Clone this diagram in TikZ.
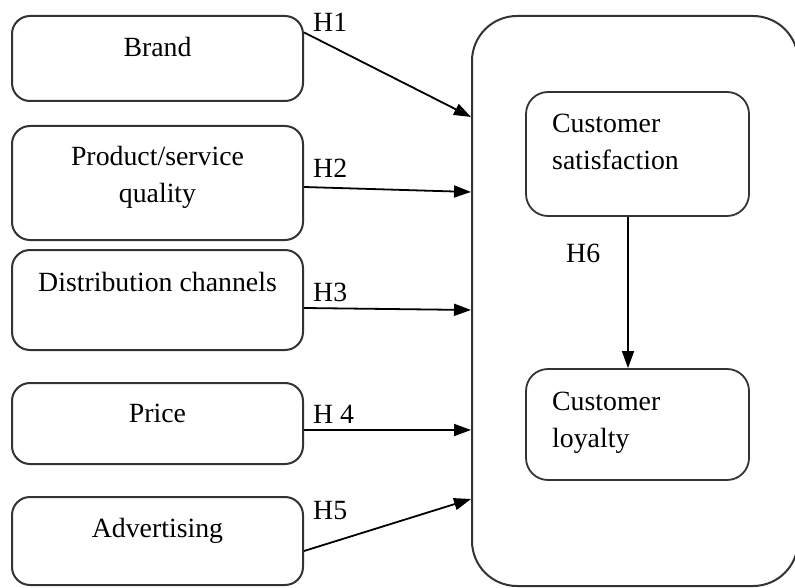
\documentclass[tikz,border=0pt]{standalone}
\usepackage{fontspec}
\setmainfont{Liberation Serif}
\usepackage{tikz}
\usetikzlibrary{arrows.meta}
\usetikzlibrary{positioning}
\usetikzlibrary{calc}
\tikzset{
    factor/.style={draw=black!80, line width=2pt, rounded corners=18pt, minimum width=291pt},
    outcome/.style={draw=black!80, line width=1.8pt, rounded corners=22pt, minimum width=223pt},
    frame/.style={draw=black!80, line width=2pt, rounded corners=45pt},
    txt/.style={font=\fontsize{27.8}{37}\selectfont, inner sep=0pt, align=center, anchor=base},
    ltxt/.style={font=\fontsize{27.8}{37}\selectfont, inner sep=0pt, align=left, anchor=base west},
    hyp/.style={draw=black, line width=1.8pt, -{Triangle[length=17pt,width=12pt]}},
}
\begin{document}
\begin{tikzpicture}[x=1pt, y=-1pt]
	\useasboundingbox (0,0) rectangle (795,588);
	% outer frame
	\node[frame, minimum width=326pt, minimum height=570pt, inner sep=0pt] (outer) at (635,301) {};
	% left boxes
	\node[factor, minimum height=85pt] (brand) at (157.5,58.5) {};
	\node[factor, minimum height=114pt] (product) at (157.5,183) {};
	\node[factor, minimum height=100pt] (distribution) at (157.5,300) {};
	\node[factor, minimum height=81pt] (price) at (157.5,423.5) {};
	\node[factor, minimum height=88pt] (advertising) at (157.5,541) {};
	\node[txt] (brandtxt) at (157.5,57) {Brand};
	\node[txt] (producttxt) at (157.5,203) {Product/service\\quality};
	\node[txt] (distributiontxt) at (157.5,291) {Distribution channels};
	\node[txt] (pricetxt) at (157.5,422) {Price};
	\node[txt] (advertisingtxt) at (157.5,537) {Advertising};
	% right boxes
	\node[outcome, minimum height=124pt] (satisfaction) at (637.5,154) {};
	\node[outcome, minimum height=111pt] (loyalty) at (637.5,424.5) {};
	\node[ltxt] (satisfactiontxt) at (552,170) {Customer\\satisfaction};
	\node[ltxt] (loyaltytxt) at (552,447) {Customer\\loyalty};
	% hypotheses
	\coordinate (in1) at (outer.west |- 0,117);
	\coordinate (in2) at (outer.west |- 0,192);
	\coordinate (in3) at (outer.west |- 0,310);
	\coordinate (in4) at (outer.west |- 0,430);
	\coordinate (in5) at (outer.west |- 0,499);
	\draw[hyp] ($(brand.north east)!0.2!(brand.south east)$) -- (in1);
	\draw[hyp] ($(product.east)+(0,4)$) -- (in2);
	\draw[hyp] ($(distribution.east)+(0,8)$) -- (in3);
	\draw[hyp] ($(price.east)+(0,6.5)$) -- (in4);
	\draw[hyp] ($(advertising.east)+(0,10)$) -- (in5);
	\draw[hyp, line width=1.5pt] (satisfaction.south -| 628,0) -- (loyalty.north -| 628,0);
	\node[ltxt] (h1) at (313,32) {H1};
	\node[ltxt] (h2) at (313,178) {H2};
	\node[ltxt] (h3) at (313,301) {H3};
	\node[ltxt] (h4) at (313,423) {H 4};
	\node[ltxt] (h5) at (313,519) {H5};
	\node[ltxt] (h6) at (566,262) {H6};
\end{tikzpicture}
\end{document}
